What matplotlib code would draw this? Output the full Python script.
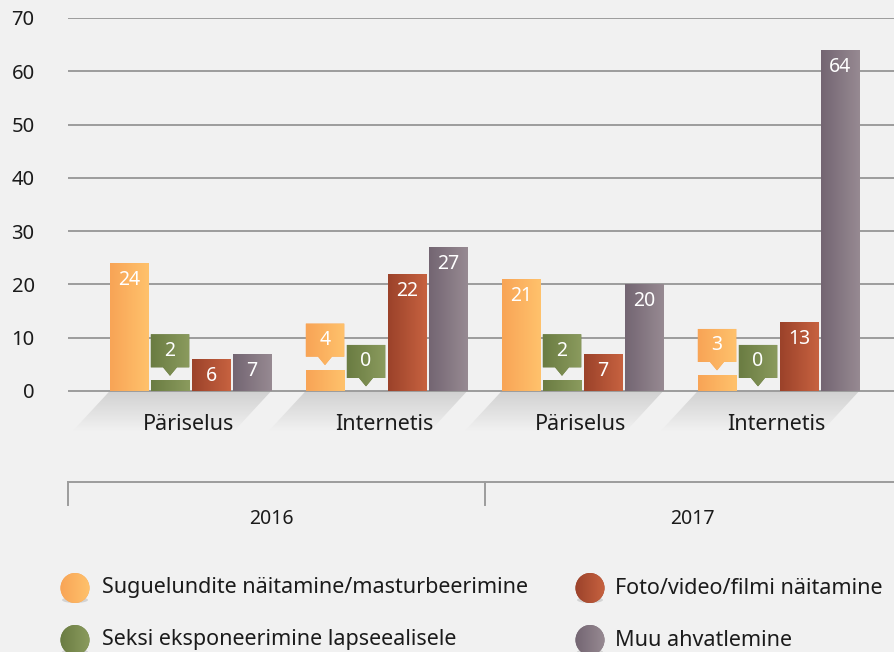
import matplotlib.pyplot as plt
import numpy as np
from matplotlib.colors import LinearSegmentedColormap
from matplotlib.patches import Polygon, Ellipse

# data
years = ['2016', '2017']
categories = ['Päriselus', 'Internetis', 'Päriselus', 'Internetis']
series = ['Suguelundite näitamine/masturbeerimine', 'Seksi eksponeerimine lapseealisele',
          'Foto/video/filmi näitamine', 'Muu ahvatlemine']
sugu = [24, 4, 21, 3]
seksi = [2, 0, 2, 0]
foto = [6, 22, 7, 13]
muu = [7, 27, 20, 64]
yticks = [0, 10, 20, 30, 40, 50, 60, 70]

colors = [('#f8a456', '#ffc26c'), ('#6a7c42', '#8b9b5e'),
          ('#9b422a', '#c76240'), ('#736572', '#978a92')]

BG = '#f1f1f1'
GRID = '#9c9c9c'
TXT = '#1b1b1b'
plt.rcParams['font.family'] = ['Noto Sans', 'DejaVu Sans']

PXY = 373 / 70.0   # pixels per y unit
PXX = 196.0        # pixels per group


def gradient(ax, patch, c1, c2, vertical=False, z=3):
    xy = patch.get_xy() if isinstance(patch, Polygon) else None
    if xy is None:
        x0, y0 = patch.get_x(), patch.get_y()
        x1, y1 = x0 + patch.get_width(), y0 + patch.get_height()
    else:
        x0, x1 = xy[:, 0].min(), xy[:, 0].max()
        y0, y1 = xy[:, 1].min(), xy[:, 1].max()
    cmap = LinearSegmentedColormap.from_list('g', [c1, c2])
    g = np.linspace(0, 1, 256)
    g = g.reshape(-1, 1) if vertical else g.reshape(1, -1)
    im = ax.imshow(g, cmap=cmap, extent=[x0, x1, y0, y1], aspect='auto',
                   origin='lower', interpolation='bicubic', zorder=z)
    im.set_clip_path(patch)
    return im


fig = plt.figure(figsize=(8.94, 6.52), dpi=100, facecolor=BG)
ax = fig.add_axes([68 / 894, 0.1715, 1 - 68 / 894, 0.801])
ax.set_facecolor(BG)
for s in ax.spines.values():
    s.set_visible(False)

xlo = (68 - 190.5) / PXX
xhi = (894 - 190.5) / PXX
x = np.arange(len(categories))
width = 38.5 / PXX
offsets = np.array([-61.5, -20.5, 20.5, 61.5]) / PXX

for v in yticks:
    ax.axhline(v, color=GRID, lw=1.4, zorder=1)

# shadows under each group
dx, dh = 37 / PXX, 40 / PXY
for xi in x:
    l = xi + offsets[0] - width / 2
    r = xi + offsets[-1] + width / 2
    sh = Polygon([(l, 0), (r, 0), (r - dx, -dh), (l - dx, -dh)], closed=True,
                 facecolor='none', edgecolor='none', zorder=0.5)
    ax.add_patch(sh)
    gradient(ax, sh, BG, '#d0d0d0', vertical=True, z=0.5)
    ax.text(xi - 2 / PXX, -34 / PXY, categories[xi], ha='center', va='center',
            fontsize=15.5, color=TXT)

for k, vals in enumerate([sugu, seksi, foto, muu]):
    c1, c2 = colors[k]
    bars = ax.bar(x + offsets[k], vals, width, color=c1, edgecolor='none', zorder=2)
    for b, v in zip(bars, vals):
        if v > 0:
            gradient(ax, b, c1, c2, z=3)
        xc = b.get_x() + width / 2
        if v > 4:
            ax.text(xc, v - 17 / PXY, str(v), ha='center', va='center', color='white',
                    fontsize=14, zorder=5)
        else:
            yb = v + 13 / PXY
            yt = v + 46 / PXY
            tip = v + 4.5 / PXY
            hw = 7 / PXX
            xl, xr = xc - width / 2, xc + width / 2
            call = Polygon([(xl, yb), (xc - hw, yb), (xc, tip), (xc + hw, yb), (xr, yb),
                            (xr, yt), (xl, yt)], closed=True, facecolor=c1,
                           edgecolor='none', zorder=3)
            ax.add_patch(call)
            gradient(ax, call, c1, c2, z=4)
            ax.text(xc, (yb + yt) / 2, str(v), ha='center', va='center', color='white',
                    fontsize=14, zorder=5)

# year axis
ya = -(482 - 391) / PXY
yt_ = -(505 - 391) / PXY
ax.plot([xlo, xhi], [ya, ya], color=GRID, lw=1.4, clip_on=False)
for xt in [xlo, 1.5]:
    ax.plot([xt, xt], [ya, yt_], color=GRID, lw=1.4, clip_on=False)
for i, yr in enumerate(years):
    left = xlo if i == 0 else 1.5
    right = 1.5 if i == 0 else xhi + 6 / PXX
    ax.text((left + right) / 2 - 5 / PXX * (i == 0), -(519 - 391) / PXY, yr,
            ha='center', va='center', fontsize=14, color=TXT)

ax.set_yticks(yticks)
ax.tick_params(axis='y', length=0, labelsize=14.5, pad=24, labelcolor=TXT)
ax.set_xticks([])
ax.set_xlim(xlo, xhi)
ax.set_ylim(-28, 70)

# legend
lg = fig.add_axes([0, 0, 1, 1], zorder=-1)
lg.axis('off')
spots = [(75, 588, 102), (75, 640, 102), (590, 588, 615), (590, 640, 615)]
for k, (cx, cy, tx) in enumerate(spots):
    c1, c2 = colors[k]
    lg.add_patch(Ellipse((cx, cy + 12), 26, 6, color='#000000', alpha=0.12, lw=0))
    e = Ellipse((cx, cy), 29, 30, facecolor=c1, edgecolor='none', zorder=1)
    lg.add_patch(e)
    im = lg.imshow(np.linspace(0, 1, 256).reshape(1, -1),
                   cmap=LinearSegmentedColormap.from_list('g', [c1, c2]),
                   extent=[cx - 15, cx + 15, cy + 15, cy - 15], aspect='auto', zorder=2)
    im.set_clip_path(e)
    lg.text(tx, cy, series[k], ha='left', va='center', fontsize=15.5, color=TXT)
lg.set_xlim(0, 894)
lg.set_ylim(652, 0)

fig.savefig('out.png', dpi=100, facecolor=BG)
